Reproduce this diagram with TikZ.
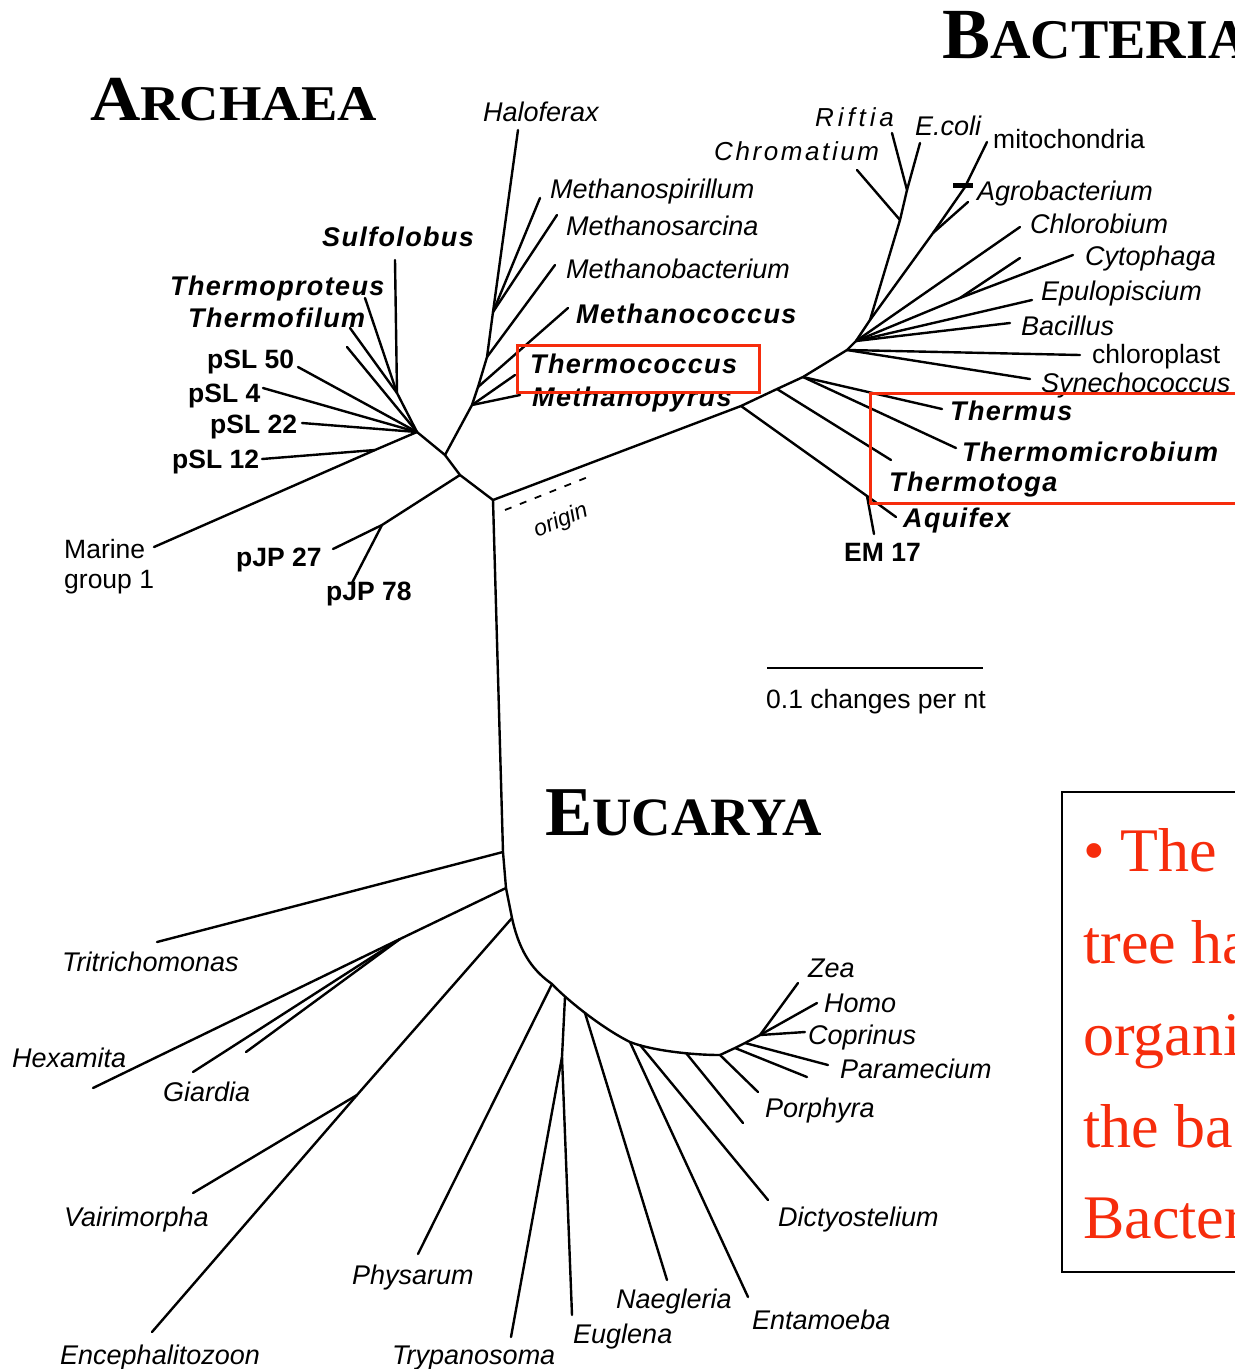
\documentclass[tikz,border=0pt]{standalone}
\usepackage{fontspec}
\setmainfont{Liberation Sans}
\newfontfamily\titlefont{Liberation Serif}
\newfontfamily\wideb[LetterSpace=5]{Liberation Sans}
\newfontfamily\spacedit[LetterSpace=15]{Liberation Sans}
\newfontfamily\spacedsmall[LetterSpace=10]{Liberation Sans}
\definecolor{hl}{RGB}{246,44,12}
\begin{document}
\begin{tikzpicture}[x=1pt,y=-1pt,
  br/.style={line width=2.4pt, line join=round, line cap=round},
  lab/.style={font=\fontsize{27}{30}\selectfont\itshape, inner sep=0pt, anchor=base west},
  blab/.style={font=\wideb\fontsize{27}{30}\selectfont\bfseries\itshape, inner sep=0pt, anchor=base west},
  rlab/.style={font=\fontsize{26.5}{30}\selectfont, inner sep=0pt, anchor=base west},
  bup/.style={font=\fontsize{26.5}{30}\selectfont\bfseries, inner sep=0pt, anchor=base west},
  ttl/.style={font=\titlefont\bfseries, inner sep=0pt, anchor=base west},
  redbox/.style={draw=hl, line width=3pt},
  note/.style={font=\titlefont\fontsize{62}{62}\selectfont, text=hl, inner sep=0pt, anchor=base west}]
\useasboundingbox (0,0) rectangle (1235,1369);
\clip (0,0) rectangle (1235,1369);

% ---------- coordinates: central ----------
\coordinate (R) at (493,500);
\coordinate (A1) at (460,475);
\coordinate (A2) at (445,455);
\coordinate (C) at (417,432);
% pJP
\coordinate (P) at (382,525);
\coordinate (pJP27e) at (333,549);
\coordinate (pJP78e) at (352,583);
% crenarchaeota
\coordinate (M1) at (375,450);
\coordinate (Me) at (154,547);
\coordinate (pSL12e) at (262,459);
\coordinate (pSL22e) at (302,423);
\coordinate (pSL4e) at (263,388);
\coordinate (pSL50e) at (298,367);
\coordinate (Xe) at (347,347);
\coordinate (SJ) at (397,393);
\coordinate (Sulfe) at (395,260);
\coordinate (Tpre) at (365,298);
\coordinate (Tfie) at (350,328);
% euryarchaeota
\coordinate (E0) at (472,405);
\coordinate (E1) at (478,387);
\coordinate (E2) at (487,357);
\coordinate (E3) at (493,312);
\coordinate (Hale) at (518,130);
\coordinate (Mpye) at (520,395);
\coordinate (Tcoe) at (515,375);
\coordinate (Mcoe) at (568,308);
\coordinate (Mbae) at (555,265);
\coordinate (Msae) at (557,215);
\coordinate (Mspe) at (540,198);
% bacteria
\coordinate (BA) at (741,406);
\coordinate (BT) at (777,389);
\coordinate (BB) at (803,377);
\coordinate (B1) at (847,350);
\coordinate (B2) at (856,341);
\coordinate (B3) at (870,320);
\coordinate (PJ1) at (900,220);
\coordinate (PJ2) at (907,190);
\coordinate (Rife) at (892,133);
\coordinate (Ecoe) at (920,143);
\coordinate (Chre) at (857,170);
\coordinate (AJ) at (933,233);
\coordinate (AJ2) at (965,187);
\coordinate (Mite) at (987,142);
\coordinate (Agre) at (968,202);
\coordinate (tk1) at (953,185);
\coordinate (tk2) at (973,185);
\coordinate (Chle) at (1020,227);
\coordinate (CyJ) at (960,298);
\coordinate (Cyte) at (1073,255);
\coordinate (Une) at (1020,258);
\coordinate (Epue) at (1032,300);
\coordinate (Bace) at (1010,323);
\coordinate (Clpe) at (1080,355);
\coordinate (Syne) at (1030,379);
\coordinate (Thse) at (942,409);
\coordinate (Tmie) at (956,448);
\coordinate (Ttge) at (891,460);
\coordinate (AqJ) at (867,496);
\coordinate (Aqe) at (896,517);
\coordinate (EMe) at (874,534);
% eucarya
\coordinate (EU1) at (503,852);
\coordinate (EU2) at (506,888);
\coordinate (EU3) at (512,918);
\coordinate (EU4) at (552,984);
\coordinate (EU5) at (565,997);
\coordinate (EU6) at (585,1013);
\coordinate (EU7) at (630,1042);
\coordinate (EU8) at (640,1045);
\coordinate (EU9) at (686,1053);
\coordinate (CR) at (720,1055);
\coordinate (Trie) at (157,942);
\coordinate (GJ) at (400,939);
\coordinate (Hexe) at (93,1088);
\coordinate (Giae) at (193,1072);
\coordinate (Gxe) at (246,1052);
\coordinate (VJ) at (357,1095);
\coordinate (Ence) at (152,1332);
\coordinate (Vaie) at (193,1193);
\coordinate (Phye) at (418,1254);
\coordinate (TJ) at (562,1057);
\coordinate (Trye) at (511,1337);
\coordinate (Euge) at (572,1315);
\coordinate (Naee) at (667,1280);
\coordinate (Ente) at (748,1297);
\coordinate (Dice) at (768,1200);
\coordinate (Unle) at (743,1123);
\coordinate (Pore) at (758,1092);
\coordinate (CJ0) at (735,1048);
\coordinate (CJ1) at (745,1043);
\coordinate (CJ) at (760,1035);
\coordinate (Ue2) at (807,1077);
\coordinate (Pare) at (828,1065);
\coordinate (Zeae) at (798,983);
\coordinate (Home) at (817,1003);
\coordinate (Cope) at (805,1032);

% ---------- branches ----------
% archaea
\draw[br] (R) -- (A1) -- (A2) -- (C);
\draw[br] (A1) -- (P) -- (pJP27e);
\draw[br] (P) -- (pJP78e);
\draw[br] (C) -- (M1) -- (Me);
\draw[br] (M1) -- (pSL12e);
\draw[br] (C) -- (pSL22e);
\draw[br] (C) -- (pSL4e);
\draw[br] (C) -- (pSL50e);
\draw[br] (C) -- (Xe);
\draw[br] (C) -- (SJ) -- (Sulfe);
\draw[br] (SJ) -- (Tpre);
\draw[br] (SJ) -- (Tfie);
\draw[br] (A2) -- (E0) -- (E1) -- (E2) -- (E3) -- (Hale);
\draw[br] (E0) -- (Mpye);
\draw[br] (E0) -- (Tcoe);
\draw[br] (E1) -- (Mcoe);
\draw[br] (E2) -- (Mbae);
\draw[br] (E3) -- (Msae);
\draw[br] (E3) -- (Mspe);
% bacteria
\draw[br] (R) -- (BA) -- (BT) -- (BB) -- (B1) -- (B2) -- (B3) -- (PJ1) -- (PJ2) -- (Rife);
\draw[br] (PJ2) -- (Ecoe);
\draw[br] (PJ1) -- (Chre);
\draw[br] (B3) -- (AJ) -- (AJ2) -- (Mite);
\draw[br] (AJ) -- (Agre);
\draw[line width=5pt] (tk1) -- (tk2);
\draw[br] (B2) -- (Chle);
\draw[br] (B2) -- (CyJ) -- (Cyte);
\draw[br] (CyJ) -- (Une);
\draw[br] (B2) -- (Epue);
\draw[br] (B2) -- (Bace);
\draw[br] (B1) -- (Clpe);
\draw[br] (B1) -- (Syne);
\draw[br] (BB) -- (Thse);
\draw[br] (BB) -- (Tmie);
\draw[br] (BT) -- (Ttge);
\draw[br] (BA) -- (AqJ) -- (Aqe);
\draw[br] (AqJ) -- (EMe);
% origin dashes
\coordinate (o1) at (505,510);
\coordinate (o2) at (588,477);
\draw[line width=1.8pt, dash pattern=on 7pt off 9pt] (o1) -- (o2);
% eucarya
\draw[br] (R) -- (EU1) -- (EU2) -- (EU3) .. controls (520,955) and (535,972) .. (EU4)
  .. controls (565,998) and (600,1027) .. (EU7)
  .. controls (650,1050) and (690,1055) .. (CR);
\draw[br] (EU1) -- (Trie);
\draw[br] (EU2) -- (GJ) -- (Hexe);
\draw[br] (GJ) -- (Giae);
\draw[br] (GJ) -- (Gxe);
\draw[br] (EU3) -- (VJ) -- (Ence);
\draw[br] (VJ) -- (Vaie);
\draw[br] (EU4) -- (Phye);
\draw[br] (EU5) -- (TJ) -- (Trye);
\draw[br] (TJ) -- (Euge);
\draw[br] (EU6) -- (Naee);
\draw[br] (EU7) -- (Ente);
\draw[br] (EU8) -- (Dice);
\draw[br] (EU9) -- (Unle);
\draw[br] (CR) -- (Pore);
\draw[br] (CR) -- (CJ0) -- (CJ1) -- (CJ);
\draw[br] (CJ0) -- (Ue2);
\draw[br] (CJ1) -- (Pare);
\draw[br] (CJ) -- (Zeae);
\draw[br] (CJ) -- (Home);
\draw[br] (CJ) -- (Cope);

% ---------- titles ----------
\node[ttl] (tArch) at (90,120) {\scalebox{1.09}[1]{\fontsize{64}{64}\selectfont A\fontsize{50}{50}\selectfont RCHAEA}};
\node[ttl] (tBact) at (942,58) {\fontsize{72}{72}\selectfont B\fontsize{56}{56}\selectfont ACTERIA};
\node[ttl] (tEuc) at (545,835) {\scalebox{1.01}[1]{\fontsize{70}{70}\selectfont E\fontsize{54}{54}\selectfont UCARYA}};

% ---------- archaea labels ----------
\node[lab] (lHal) at (483,121) {Haloferax};
\node[lab] (lMsp) at (550,198) {Methanospirillum};
\node[lab] (lMsa) at (566,235) {Methanosarcina};
\node[lab] (lMba) at (566,278) {Methanobacterium};
\node[blab] (lMco) at (576,323) {Methanococcus};
\node[blab] (lTco) at (530,373) {Thermococcus};
\node[blab] (lMpy) at (532,406) {Methanopyrus};
\node[blab] (lSul) at (322,246) {Sulfolobus};
\node[blab] (lTpr) at (170,295) {Thermoproteus};
\node[blab] (lTfi) at (188,327) {Thermofilum};
\node[bup] (lp50) at (207,368) {pSL 50};
\node[bup] (lp4) at (188,402) {pSL 4};
\node[bup] (lp22) at (210,433) {pSL 22};
\node[bup] (lp12) at (172,468) {pSL 12};
\node[rlab] (lMar) at (64,558) {Marine};
\node[rlab] (lMar2) at (64,588) {group 1};
\node[bup] (lj27) at (236,566) {pJP 27};
\node[bup] (lj78) at (326,600) {pJP 78};
\node[font=\fontsize{23}{26}\selectfont\itshape, inner sep=0pt, rotate=22] (lorig) at (561,521) {origin};

% ---------- bacteria labels ----------
\node[lab, font=\spacedit\fontsize{26}{28}\selectfont\itshape] (lRif) at (815,126) {Riftia};
\node[lab, font=\spacedsmall\fontsize{26}{28}\selectfont\itshape] (lChr) at (714,160) {Chromatium};
\node[lab] (lEco) at (915,135) {E.coli};
\node[rlab] (lMit) at (993,148) {mitochondria};
\node[lab] (lAgr) at (977,200) {Agrobacterium};
\node[lab] (lChl) at (1030,233) {Chlorobium};
\node[lab] (lCyt) at (1085,265) {Cytophaga};
\node[lab] (lEpu) at (1041,300) {Epulopiscium};
\node[lab] (lBac) at (1021,335) {Bacillus};
\node[rlab] (lClp) at (1092,363) {chloroplast};
\node[lab] (lSyn) at (1041,392) {Synechococcus};
\node[blab] (lThs) at (950,420) {Thermus};
\node[blab] (lTmi) at (962,461) {Thermomicrobium};
\node[blab] (lTtg) at (889,491) {Thermotoga};
\node[blab] (lAq) at (903,527) {Aquifex};
\node[bup] (lEM) at (844,561) {EM 17};

% ---------- scale bar ----------
\coordinate (s1) at (767,668);
\coordinate (s2) at (983,668);
\draw[line width=2pt] (s1) -- (s2);
\node[rlab] (lscale) at (766,708) {0.1 changes per nt};

% ---------- eucarya labels ----------
\node[lab] (lZea) at (808,977) {Zea};
\node[lab] (lHom) at (824,1012) {Homo};
\node[lab] (lCop) at (808,1044) {Coprinus};
\node[lab] (lPar) at (840,1078) {Paramecium};
\node[lab] (lPor) at (765,1117) {Porphyra};
\node[lab] (lDic) at (778,1226) {Dictyostelium};
\node[lab] (lEnt) at (752,1329) {Entamoeba};
\node[lab] (lNae) at (616,1308) {Naegleria};
\node[lab] (lEug) at (573,1343) {Euglena};
\node[lab] (lTry) at (392,1364) {Trypanosoma};
\node[lab] (lPhy) at (352,1284) {Physarum};
\node[lab] (lEnc) at (60,1364) {Encephalitozoon};
\node[lab] (lVai) at (64,1226) {Vairimorpha};
\node[lab] (lGia) at (163,1101) {Giardia};
\node[lab] (lHex) at (12,1067) {Hexamita};
\node[lab] (lTri) at (62,971) {Tritrichomonas};

% ---------- highlight boxes ----------
\draw[redbox] (517,345) rectangle (759,392);
\draw[redbox] (870,393) rectangle (1250,503);

% ---------- note box ----------
\draw[line width=1.5pt] (1062,792) rectangle (1250,1272);
\node[note] (n1) at (1083,871) {\textbullet\ The};
\node[note] (n2) at (1083,963) {tree ha};
\node[note] (n3) at (1083,1055) {organi};
\node[note] (n4) at (1083,1147) {the ba};
\node[note] (n5) at (1083,1238) {Bacter};
\end{tikzpicture}
\end{document}
